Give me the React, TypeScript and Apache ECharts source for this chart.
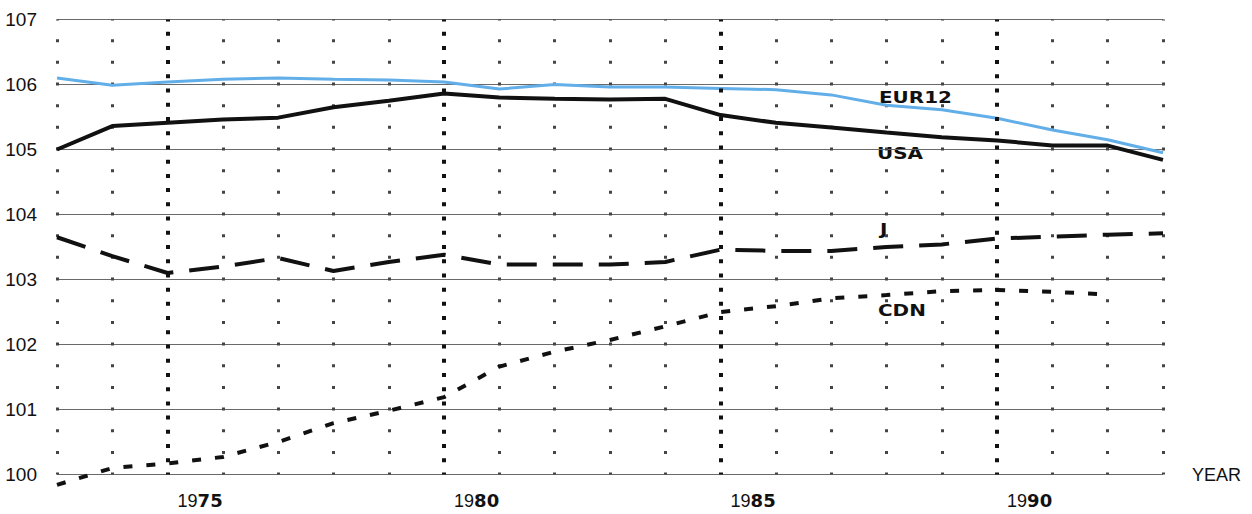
import React, { useEffect, useRef } from "react";
import * as echarts from "echarts";

const years = [1973, 1974, 1975, 1976, 1977, 1978, 1979, 1980, 1981, 1982, 1983, 1984, 1985, 1986, 1987, 1988, 1989, 1990, 1991, 1992, 1993];
const eur12 = [106.10, 105.99, 106.04, 106.08, 106.10, 106.08, 106.07, 106.04, 105.93, 106.00, 105.96, 105.96, 105.94, 105.92, 105.84, 105.68, 105.61, 105.48, 105.30, 105.15, 104.95];
const usa = [105.00, 105.36, 105.41, 105.46, 105.49, 105.65, 105.75, 105.86, 105.80, 105.78, 105.77, 105.78, 105.53, 105.41, 105.34, 105.26, 105.19, 105.14, 105.06, 105.06, 104.84];
const japan = [103.65, 103.36, 103.10, 103.20, 103.33, 103.13, 103.27, 103.38, 103.23, 103.23, 103.23, 103.27, 103.46, 103.44, 103.44, 103.50, 103.54, 103.63, 103.66, 103.69, 103.71];
const cdn = [99.84, 100.10, 100.17, 100.27, 100.50, 100.79, 100.98, 101.19, 101.66, 101.89, 102.07, 102.28, 102.50, 102.59, 102.71, 102.76, 102.82, 102.84, 102.81, 102.77, null];
const majorYears = [1975, 1980, 1985, 1990];
const seriesNames = ["EUR12", "USA", "J", "CDN"];

const pairs = (vals: (number | null)[]) =>
  years.map((y, i) => [y, vals[i]]).filter((p) => p[1] !== null);

export default function App() {
  const ref = useRef<HTMLDivElement>(null);
  useEffect(() => {
    if (!ref.current) return;
    const chart = echarts.init(ref.current, null, { renderer: "svg" });
    const labelFont = {
      fontFamily: "DejaVu Sans",
      fontWeight: "bold",
      fontSize: 15,
      fill: "#111",
      align: "left",
      verticalAlign: "middle",
    };
    chart.setOption({
      animation: false,
      backgroundColor: "#fff",
      grid: { left: 57, right: 89, top: 19.5, bottom: 39.5, containLabel: false },
      xAxis: {
        type: "value",
        min: 1973,
        max: 1993,
        interval: 1,
        name: "YEAR",
        nameLocation: "end",
        nameGap: 29,
        nameTextStyle: { fontFamily: "Liberation Sans", fontSize: 18, color: "#111", verticalAlign: "middle" },
        axisLine: { show: false },
        axisTick: { show: false },
        axisLabel: {
          show: true,
          margin: 17,
          align: "left",
          padding: [0, 0, 0, 10],
          formatter: (v: number) =>
            majorYears.includes(v) ? `{a|${String(v).slice(0, 2)}}{b|${String(v).slice(2)}}` : "",
          rich: {
            a: { fontFamily: "Liberation Sans", fontSize: 18, color: "#111" },
            b: { fontFamily: "DejaVu Sans", fontWeight: "bold", fontSize: 18, color: "#111" },
          },
        },
        splitLine: {
          show: true,
          showMinLine: true,
          showMaxLine: true,
          lineStyle: {
            color: ["#444", "#444", "rgba(0,0,0,0)", "#444", "#444"],
            width: 3,
            type: [3, 18.67],
            dashOffset: 1.5,
          },
        },
      },
      yAxis: {
        type: "value",
        min: 100,
        max: 107,
        interval: 1,
        axisLine: { show: false },
        axisTick: { show: false },
        axisLabel: {
          margin: 20,
          fontFamily: "Liberation Sans",
          fontSize: 19,
          color: "#111",
        },
        splitLine: {
          show: true,
          showMinLine: true,
          showMaxLine: true,
          lineStyle: { color: "#6a6a6a", width: 1, type: "solid" },
        },
      },
      series: [
        {
          name: seriesNames[3],
          type: "line",
          data: pairs(cdn),
          symbol: "none",
          clip: false,
          lineStyle: { color: "#111", width: 4, type: [9, 14], cap: "butt" },
          markLine: {
            silent: true,
            symbol: ["none", "none"],
            label: { show: false },
            lineStyle: { color: "#111", width: 4, type: [4, 10.22], dashOffset: 2 },
            emphasis: { disabled: true },
            data: majorYears.map((y) => ({ xAxis: y })),
          },
        },
        {
          name: seriesNames[2],
          type: "line",
          data: pairs(japan),
          symbol: "none",
          lineStyle: { color: "#111", width: 4, type: [30, 16], cap: "butt" },
        },
        {
          name: seriesNames[1],
          type: "line",
          data: pairs(usa),
          symbol: "none",
          lineStyle: { color: "#111", width: 4 },
        },
        {
          name: seriesNames[0],
          type: "line",
          data: pairs(eur12),
          symbol: "none",
          lineStyle: { color: "#62aee8", width: 3 },
        },
      ],
      graphic: [
        { type: "text", x: 879, y: 98, scaleX: 1.33, style: { ...labelFont, text: seriesNames[0] } },
        { type: "text", x: 877, y: 154, scaleX: 1.33, style: { ...labelFont, text: seriesNames[1] } },
        { type: "text", x: 880, y: 230, scaleX: 1.33, style: { ...labelFont, text: seriesNames[2] } },
        { type: "text", x: 878, y: 311, scaleX: 1.33, style: { ...labelFont, text: seriesNames[3] } },
      ],
    });
    return () => chart.dispose();
  }, []);
  return (
    <div
      ref={ref}
      style={{ position: "fixed", left: 0, top: 0, width: 1252, height: 514 }}
    />
  );
}
